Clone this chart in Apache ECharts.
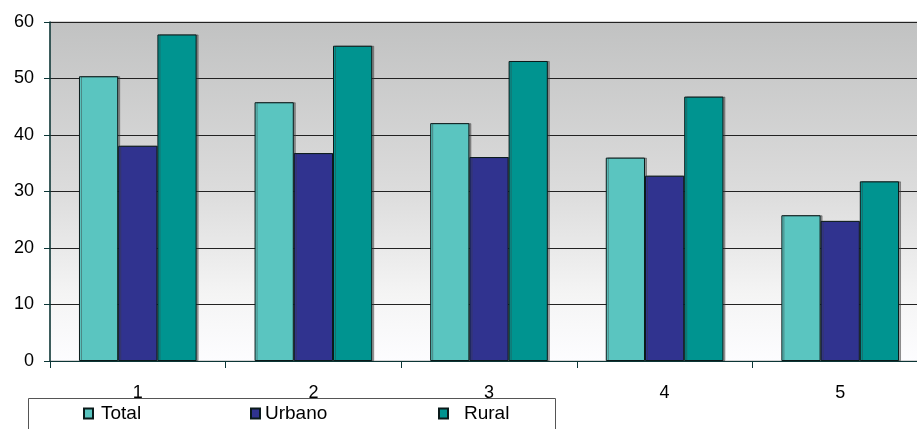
<!DOCTYPE html>
<html>
<head>
<meta charset="utf-8">
<script src="https://cdn.jsdelivr.net/npm/echarts@6/dist/echarts.min.js"></script>
<style>
  html, body { margin: 0; padding: 0; background: #fff; }
  #chart { width: 917px; height: 429px; }
</style>
</head>
<body>
<div id="chart"></div>
<script>
// categorias
var categories = ['1', '2', '3', '4', '5']
// valores por serie
var totalData = [50.4, 45.8, 42.1, 36.0, 25.8]
var urbanoData = [38.1, 36.8, 36.1, 32.8, 24.8]
var ruralData = [57.8, 55.8, 53.1, 46.8, 31.8]
var yTicks = [0, 10, 20, 30, 40, 50, 60]

var font = 'Liberation Sans, Arial, sans-serif'
var barBorder = {
  borderColor: '#0a1a1a',
  borderWidth: 1,
  shadowColor: 'rgba(60,60,60,0.45)',
  shadowOffsetX: 2,
  shadowOffsetY: 0,
  shadowBlur: 0
}

var makeSeries = function (name, data, color) {
  return {
    name: name,
    type: 'bar',
    data: data,
    barGap: '0%',
    barCategoryGap: '33%',
    itemStyle: Object.assign({ color: color }, barBorder)
  }
}

var makeLegend = function (name, left, textPad) {
  return {
    data: [name],
    left: left,
    top: 404,
    icon: 'rect',
    itemWidth: 9,
    itemHeight: 10,
    itemGap: 0,
    padding: 0,
    textStyle: {
      fontFamily: font,
      fontSize: 19,
      color: '#000',
      padding: [0, 0, 0, textPad]
    }
  }
}

var myChart = echarts.init(document.getElementById('chart'))
var option = {
  animation: false,
  grid: {
    left: 50,
    width: 878,
    top: 22,
    bottom: 68,
    outerBoundsMode: 'none',
    containLabel: false,
    show: true,
    borderWidth: 1,
    borderColor: '#a8a8a8',
    backgroundColor: {
      type: 'linear', x: 0, y: 0, x2: 0, y2: 1,
      colorStops: [
        { offset: 0, color: '#c1c2c2' },
        { offset: 0.5, color: '#dcdcdc' },
        { offset: 0.8, color: '#f4f4f4' },
        { offset: 1, color: '#fdfdff' }
      ]
    }
  },
  legend: [
    makeLegend('Total', 83, 3),
    makeLegend('Urbano', 250, 0),
    makeLegend('Rural', 438, 11)
  ],
  graphic: [{
    type: 'rect',
    shape: { x: 28.5, y: 398.5, width: 527, height: 40 },
    style: { fill: 'none', stroke: '#555', lineWidth: 1 },
    z: -1
  }],
  xAxis: {
    type: 'category',
    data: categories,
    axisLine: { lineStyle: { color: '#0b3636', width: 1 } },
    axisTick: { show: true, length: 7, lineStyle: { color: '#0b3636' } },
    axisLabel: { fontFamily: font, fontSize: 18, color: '#000', margin: 23 }
  },
  yAxis: {
    type: 'value',
    min: yTicks[0],
    max: yTicks[yTicks.length - 1],
    interval: 10,
    axisLine: { show: true, lineStyle: { color: '#0b3636', width: 1.5 } },
    axisTick: { show: true, length: 6, lineStyle: { color: '#0b3636' } },
    axisLabel: { fontFamily: font, fontSize: 18, color: '#000', margin: 16 },
    splitLine: { lineStyle: { color: '#222', width: 1 } }
  },
  series: [
    makeSeries('Total', totalData, '#5ac5c0'),
    makeSeries('Urbano', urbanoData, '#30338f'),
    makeSeries('Rural', ruralData, '#009490')
  ]
}
myChart.setOption(option)
</script>
</body>
</html>
